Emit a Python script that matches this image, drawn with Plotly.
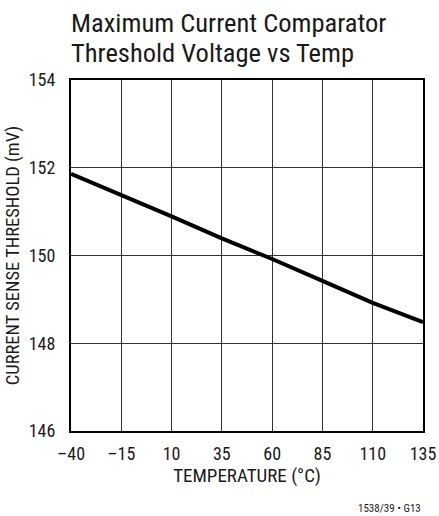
import plotly.graph_objects as go

temperature = [-40, -15, 10, 35, 60, 85, 110, 135]
threshold_mv = [151.86, 151.38, 150.89, 150.39, 149.92, 149.42, 148.92, 148.48]

x_ticks = [-40, -15, 10, 35, 60, 85, 110, 135]
x_tick_labels = ["–40", "–15", "10", "35", "60", "85", "110", "135"]
y_ticks = [146, 148, 150, 152, 154]

title_lines = ["Maximum Current Comparator", "Threshold Voltage vs Temp"]

FONT = "Roboto Condensed, Liberation Sans Narrow, Arial Narrow, sans-serif"
INK = "#1a1a1a"

W, H = 439, 516
M = dict(l=71, r=16, t=80, b=85)
plot_h = H - M["t"] - M["b"]

fig = go.Figure()
fig.add_trace(go.Scatter(
    x=temperature,
    y=threshold_mv,
    mode="lines",
    line=dict(color="black", width=4),
    showlegend=False,
    hoverinfo="skip",
))

fig.update_xaxes(
    range=[-40, 135],
    tickvals=x_ticks,
    ticktext=x_tick_labels,
    showgrid=True, gridcolor="#333333", gridwidth=1,
    showline=True, linecolor="black", linewidth=2, mirror=True,
    zeroline=False, ticks="", ticklabelstandoff=5, automargin=False,
    tickfont=dict(size=18, color=INK),
    title=dict(text="TEMPERATURE (°C)", font=dict(size=19, color=INK), standoff=5),
)
fig.update_yaxes(
    range=[146, 154],
    tickvals=y_ticks,
    showgrid=True, gridcolor="#333333", gridwidth=1,
    showline=True, linecolor="black", linewidth=2, mirror=True,
    zeroline=False, ticks="", ticklabelstandoff=10, automargin=False,
    tickfont=dict(size=18, color=INK),
    title=dict(text="CURRENT SENSE THRESHOLD (mV)", font=dict(size=18.5, color=INK), standoff=4),
)

annotations = []
# one annotation per title line, so the line spacing can follow the reference
for i, line in enumerate(title_lines):
    annotations.append(dict(
        text=line,
        xref="paper", yref="paper", x=0, y=1 + (58 - 30 * i) / plot_h,
        xanchor="left", yanchor="middle", align="left", xshift=-2,
        showarrow=False, font=dict(size=26.5, color=INK),
    ))
annotations.append(dict(
    text="1538/39 • G13",
    xref="paper", yref="paper", x=1, y=-77 / plot_h,
    xanchor="right", yanchor="middle",
    showarrow=False, font=dict(size=11, color=INK),
))

fig.update_layout(
    width=W, height=H,
    margin=M,
    paper_bgcolor="white", plot_bgcolor="white",
    font=dict(family=FONT, color=INK),
    annotations=annotations,
)

# drop the browser's default 8px body margin so the figure fills the window
fig.write_html("out.html", config={"displayModeBar": False},
               post_script="document.body.style.margin = '0';")
